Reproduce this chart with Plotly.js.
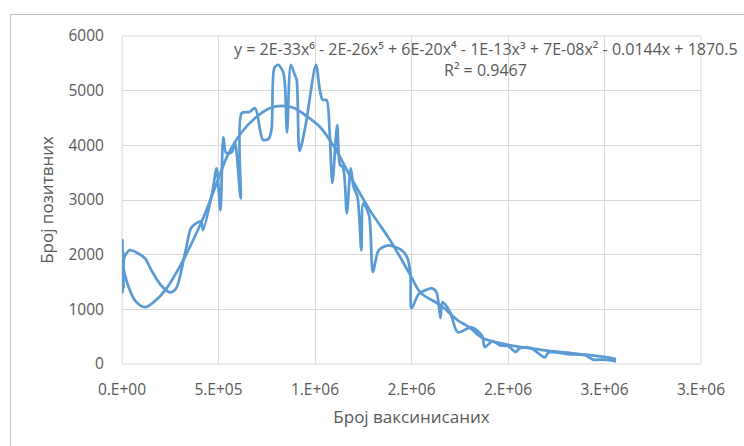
<!DOCTYPE html>
<html><head><meta charset="utf-8">
<script src="https://cdn.plot.ly/plotly-3.0.1.min.js"></script>
<style>
html,body{margin:0;padding:0;background:#fff;overflow:hidden;}
#wrap{position:relative;width:744px;height:446px;}
#chart{position:absolute;left:0;top:0;width:744px;height:446px;}
#border{position:absolute;left:10px;top:14px;width:800px;height:500px;border-left:1px solid #BFBFBF;border-top:1px solid #BFBFBF;pointer-events:none;}
</style></head>
<body><div id="wrap"><div id="chart"></div><div id="border"></div></div>
<script>
// Observed data: number vaccinated (x) vs number of positives (y)
const vaccinated = [0,2e3,4e3,6e3,8e3,1.2e4,4e4,8e4,1.2e5,1.5e5,2e5,2.5e5,2.8e5,3.3e5,3.6e5,4.1e5,4.2e5,4.7e5,4.9e5,5.1e5,5.25e5,5.4e5,5.7e5,5.85e5,6.15e5,6.2e5,6.6e5,6.9e5,7.3e5,7.6e5,7.75e5,7.9e5,8.1e5,8.35e5,8.45e5,8.55e5,8.75e5,8.95e5,9.05e5,9.2e5,9.5e5,1.005e6,1.025e6,1.04e6,1.06e6,1.075e6,1.09e6,1.115e6,1.13e6,1.145e6,1.165e6,1.185e6,1.2e6,1.22e6,1.24e6,1.25e6,1.28e6,1.3e6,1.33e6,1.38e6,1.45e6,1.48e6,1.495e6,1.5e6,1.54e6,1.61e6,1.63e6,1.65e6,1.66e6,1.7e6,1.74e6,1.81e6,1.865e6,1.88e6,1.92e6,1.96e6,2e6,2.04e6,2.06e6,2.12e6,2.19e6,2.21e6,2.26e6,2.31e6,2.4e6,2.44e6,2.5e6,2.56e6];
const positives = [1350,2270,1310,2050,1400,1950,2080,2030,1930,1730,1450,1310,1380,2080,2500,2610,2450,3180,3580,2810,4150,3860,3880,4060,3030,4590,4610,4680,4100,4120,4300,5420,5470,5340,5070,4240,5470,5290,5200,3900,4340,5470,5010,4830,4830,4300,3310,4370,3640,3600,2760,3580,3240,3060,2080,2940,2720,1680,2080,2170,2080,1930,1620,1020,1290,1380,1310,840,1130,950,580,670,520,310,420,340,330,220,290,290,120,210,210,180,160,80,80,50];

// Polynomial trendline
const trendX = [0,3e4,7e4,1.2e5,1.7e5,2.3e5,3.1e5,3.8e5,4.3e5,4.9e5,5.45e5,6.2e5,6.9e5,7.65e5,8.3e5,8.95e5,9.5e5,1.025e6,1.1e6,1.18e6,1.285e6,1.39e6,1.5e6,1.545e6,1.65e6,1.74e6,1.8e6,1.865e6,2e6,2.17e6,2.35e6,2.48e6,2.56e6];
const trendY = [1870,1450,1150,1040,1150,1380,1850,2350,2750,3300,3800,4240,4500,4680,4720,4680,4550,4340,3970,3450,2810,2260,1590,1310,1075,800,670,480,350,260,190,140,90];

const xTickVals = [0,5e5,1e6,1.5e6,2e6,2.5e6,3e6];
const xTickText = ['0.E+00','5.E+05','1.E+06','2.E+06','2.E+06','3.E+06','3.E+06'];
const yTickVals = [0,1000,2000,3000,4000,5000,6000];
const yTickText = ['0','1000','2000','3000','4000','5000','6000'];

const equationText = 'y = 2E-33x⁶ - 2E-26x⁵ + 6E-20x⁴ - 1E-13x³ + 7E-08x² - 0.0144x + 1870.5';
const r2Text = 'R² = 0.9467';

const blue = '#5B9BD5';
const txt = '#595959';
const fontFam = 'Open Sans, sans-serif';

const traces = [
  {x: vaccinated, y: positives, type:'scatter', mode:'lines',
   line:{color:blue, width:2.75, shape:'spline', smoothing:0.8}, hoverinfo:'skip', cliponaxis:false},
  {x: trendX, y: trendY, type:'scatter', mode:'lines',
   line:{color:blue, width:2.75, shape:'spline', smoothing:1}, hoverinfo:'skip'}
];

const layout = {
  width:744, height:446,
  margin:{l:122, r:43, t:36, b:82},
  paper_bgcolor:'rgba(0,0,0,0)', plot_bgcolor:'#fff',
  showlegend:false,
  font:{family:fontFam, color:txt, size:15},
  xaxis:{range:[0,3e6], tickvals:xTickVals, ticktext:xTickText,
    showgrid:true, gridcolor:'#D9D9D9', gridwidth:1, zeroline:false, showline:false,
    ticks:'outside', ticklen:11, tickcolor:'rgba(0,0,0,0)',
    tickfont:{family:fontFam, size:15.5, color:txt},
    title:{text:'Број ваксинисаних', font:{family:fontFam, size:17, color:txt}, standoff:12}},
  yaxis:{range:[0,6000], tickvals:yTickVals, ticktext:yTickText,
    showgrid:true, gridcolor:'#D9D9D9', gridwidth:1, zeroline:false, showline:false,
    ticks:'outside', ticklen:14, tickcolor:'rgba(0,0,0,0)',
    tickfont:{family:fontFam, size:15.5, color:txt},
    title:{text:'Број позитвних', font:{family:fontFam, size:17, color:txt}, standoff:10}},
  shapes:[
    {type:'rect', xref:'paper', yref:'paper', x0:0, x1:1, y0:0, y1:1, line:{color:'#D9D9D9', width:1}, layer:'below'}
  ],
  annotations:[
    {xref:'paper', yref:'paper', x:0.628, y:0.96, xanchor:'center', yanchor:'middle', showarrow:false,
     text:equationText, font:{family:fontFam, size:16, color:txt}},
    {xref:'paper', yref:'paper', x:0.628, y:0.897, xanchor:'center', yanchor:'middle', showarrow:false,
     text:r2Text, font:{family:fontFam, size:16, color:txt}}
  ]
};
Plotly.newPlot('chart', traces, layout, {staticPlot:true, displayModeBar:false});
</script></body></html>
